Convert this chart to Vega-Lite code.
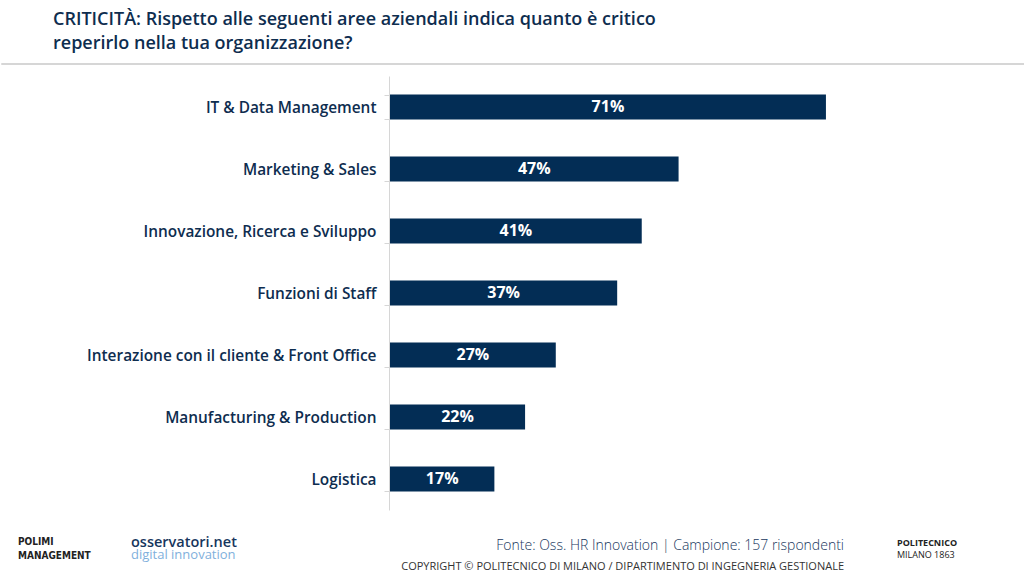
{
  "$schema": "https://vega.github.io/schema/vega-lite/v6.json",
  "padding": {"top": 10, "left": 0, "right": 0, "bottom": 0},
  "spacing": 24,
  "background": "white",
  "config": {
    "font": "Open Sans",
    "view": {"stroke": null},
    "title": {"font": "Open Sans", "color": "#0e2d4f"}
  },
  "vconcat": [
    {
      "spacing": 4,
      "vconcat": [
        {
          "width": 1024,
          "height": 1,
          "view": {"stroke": "#d6d6d6", "strokeWidth": 1},
          "title": {
            "text": ["CRITICITÀ: Rispetto alle seguenti aree aziendali indica quanto è critico", "reperirlo nella tua organizzazione?"],
            "anchor": "start",
            "dx": 52,
            "fontSize": 18,
            "fontWeight": 600,
            "lineHeight": 24,
            "offset": 10
          },
          "data": {"values": []},
          "mark": {"type": "text"},
          "encoding": {}
        },
        {
          "spacing": 0,
          "data": {
            "values": [
              {"area": "IT & Data Management", "value": 0.71},
              {"area": "Marketing & Sales", "value": 0.47},
              {"area": "Innovazione, Ricerca e Sviluppo", "value": 0.41},
              {"area": "Funzioni di Staff", "value": 0.37},
              {"area": "Interazione con il cliente & Front Office", "value": 0.27},
              {"area": "Manufacturing & Production", "value": 0.22},
              {"area": "Logistica", "value": 0.17}
            ]
          },
          "hconcat": [
            {
              "width": 388,
              "height": 434,
              "mark": {"type": "text", "text": ""},
              "encoding": {
                "y": {
                  "field": "area",
                  "type": "nominal",
                  "sort": null,
                  "title": null,
                  "scale": {"paddingInner": 0.6, "paddingOuter": 0.3},
                  "axis": {
                    "orient": "right",
                    "minExtent": 0,
                    "maxExtent": 0,
                    "labelAlign": "right",
                    "labelFont": "Open Sans",
                    "labelFontWeight": 600,
                    "labelFontSize": 15.4,
                    "labelColor": "#0e2d4f",
                    "labelPadding": -8,
                    "tickBand": "extent",
                    "tickColor": "#d6d6d6",
                    "tickSize": -5,
                    "domainColor": "#d6d6d6",
                    "labelLimit": 400
                  }
                }
              }
            },
            {
              "width": 614,
              "height": 434,
              "encoding": {
                "y": {
                  "field": "area",
                  "type": "nominal",
                  "sort": null,
                  "title": null,
                  "scale": {"paddingInner": 0.6, "paddingOuter": 0.3},
                  "axis": null
                }
              },
              "layer": [
                {
                  "mark": {"type": "bar", "color": "#032d55"},
                  "encoding": {
                    "x": {"field": "value", "type": "quantitative", "scale": {"domain": [0, 1]}, "axis": null}
                  }
                },
                {
                  "mark": {"type": "text", "color": "white", "fontSize": 16, "fontWeight": "bold", "font": "Open Sans"},
                  "encoding": {
                    "x": {"field": "value", "type": "quantitative", "scale": {"domain": [0, 2]}, "axis": null},
                    "text": {"field": "value", "type": "quantitative", "format": ".0%"},
                    "detail": {"field": "area"}
                  }
                }
              ],
              "resolve": {"scale": {"x": "independent"}}
            }
          ]
        }
      ]
    },
    {
      "spacing": 0,
      "hconcat": [
        {
          "width": 110,
          "height": 1,
          "title": {"text": "POLIMI", "subtitle": "MANAGEMENT", "anchor": "start", "dx": 17, "offset": 11, "font": "DejaVu Sans Condensed", "fontSize": 10, "fontWeight": "bold", "color": "#222222", "subtitleFont": "DejaVu Sans Condensed", "subtitleFontSize": 10, "subtitleFontWeight": "bold", "subtitleColor": "#222222", "subtitlePadding": 4},
          "data": {"values": []},
          "mark": {"type": "text"},
          "encoding": {}
        },
        {
          "width": 290,
          "height": 1,
          "title": {"text": "osservatori.net", "subtitle": "digital innovation", "anchor": "start", "dx": 20, "offset": 9, "fontSize": 14.5, "fontWeight": 600, "color": "#17365d", "subtitleFontSize": 13, "subtitleColor": "#7fb0dc", "subtitlePadding": -1},
          "data": {"values": []},
          "mark": {"type": "text"},
          "encoding": {}
        },
        {
          "width": 450,
          "height": 1,
          "title": {"text": "Fonte: Oss. HR Innovation | Campione: 157  rispondenti", "subtitle": "COPYRIGHT © POLITECNICO DI MILANO / DIPARTIMENTO DI INGEGNERIA GESTIONALE", "anchor": "end", "dx": -10, "offset": 0, "fontSize": 14, "fontWeight": 300, "color": "#17365d", "subtitleFontSize": 11, "subtitleColor": "#333333", "subtitlePadding": 8.5},
          "data": {"values": []},
          "mark": {"type": "text"},
          "encoding": {}
        },
        {
          "width": 174,
          "height": 1,
          "title": {"text": "POLITECNICO", "subtitle": "MILANO 1863", "anchor": "start", "dx": 43, "offset": 12.5, "fontSize": 9, "fontWeight": "bold", "color": "#222222", "subtitleFontSize": 9, "subtitleColor": "#222222", "subtitlePadding": 3},
          "data": {"values": []},
          "mark": {"type": "text"},
          "encoding": {}
        }
      ]
    }
  ]
}
